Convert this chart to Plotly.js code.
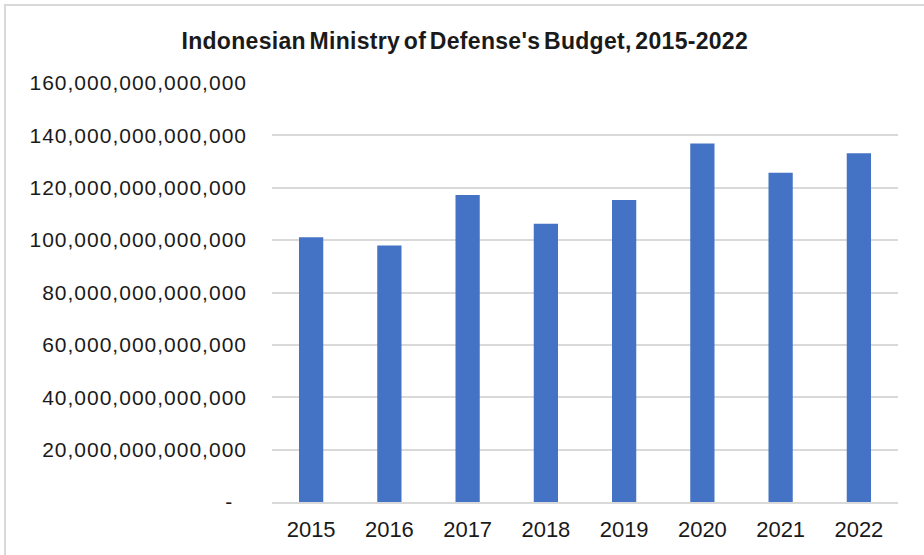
<!DOCTYPE html>
<html>
<head>
<meta charset="utf-8">
<script src="https://cdn.plot.ly/plotly-3.0.1.min.js"></script>
<style>
  html, body { margin: 0; padding: 0; background: #fff; overflow: hidden; }
  #wrap { position: relative; width: 924px; height: 555px; }
  #chart { width: 924px; height: 555px; }
  #frame { position: absolute; left: 4px; top: 4px; width: 1000px; height: 1000px;
           border: 2px solid #d9d9d9; pointer-events: none; box-sizing: border-box; }
  .ytick text { letter-spacing: 1px; }
  .gtitle { letter-spacing: 0.3px; word-spacing: -3px; }
</style>
</head>
<body>
<div id="wrap">
  <div id="chart"></div>
  <div id="frame"></div>
</div>
<script>
const years = ["2015", "2016", "2017", "2018", "2019", "2020", "2021", "2022"];
const budget = [101.1e12, 97.9e12, 117.2e12, 106.3e12, 115.3e12, 136.9e12, 125.7e12, 133.2e12];
const yTickVals = [0, 20e12, 40e12, 60e12, 80e12, 100e12, 120e12, 140e12, 160e12];
const yTickText = ["-\u00a0\u00a0", "20,000,000,000,000", "40,000,000,000,000", "60,000,000,000,000",
  "80,000,000,000,000", "100,000,000,000,000", "120,000,000,000,000", "140,000,000,000,000",
  "160,000,000,000,000"];
const titleText = "Indonesian Ministry of Defense's Budget, 2015-2022";

const trace = {
  type: "bar",
  x: years,
  y: budget,
  marker: { color: "#4472C4" },
  hoverinfo: "x+y"
};

const layout = {
  width: 924,
  height: 555,
  margin: { l: 272, r: 26, t: 83, b: 53, pad: 0 },
  paper_bgcolor: "#ffffff",
  plot_bgcolor: "#ffffff",
  bargap: 0.69,
  showlegend: false,
  font: { family: "Liberation Sans, Arial, sans-serif", color: "#1a1a1a" },
  title: {
    text: "<b>" + titleText + "</b>",
    x: 0.503, xref: "container", xanchor: "center",
    y: 0.926, yref: "container", yanchor: "middle",
    font: { size: 23, color: "#1a1a1a", family: "Liberation Sans, Arial, sans-serif" }
  },
  xaxis: {
    type: "category",
    tickfont: { size: 22, color: "#1a1a1a" },
    showgrid: false,
    showline: true,
    linecolor: "#d9d9d9",
    linewidth: 2,
    ticks: "",
    ticklabelstandoff: 7,
    fixedrange: true
  },
  yaxis: {
    range: [0, 160e12],
    tickvals: yTickVals,
    ticktext: yTickText,
    tickfont: { size: 21, color: "#1a1a1a" },
    showgrid: true,
    gridcolor: "#d9d9d9",
    gridwidth: 2,
    zeroline: false,
    showline: false,
    ticks: "",
    ticklabelstandoff: 24,
    fixedrange: true
  }
};

Plotly.newPlot("chart", [trace], layout, { displayModeBar: false, staticPlot: true });
</script>
</body>
</html>
